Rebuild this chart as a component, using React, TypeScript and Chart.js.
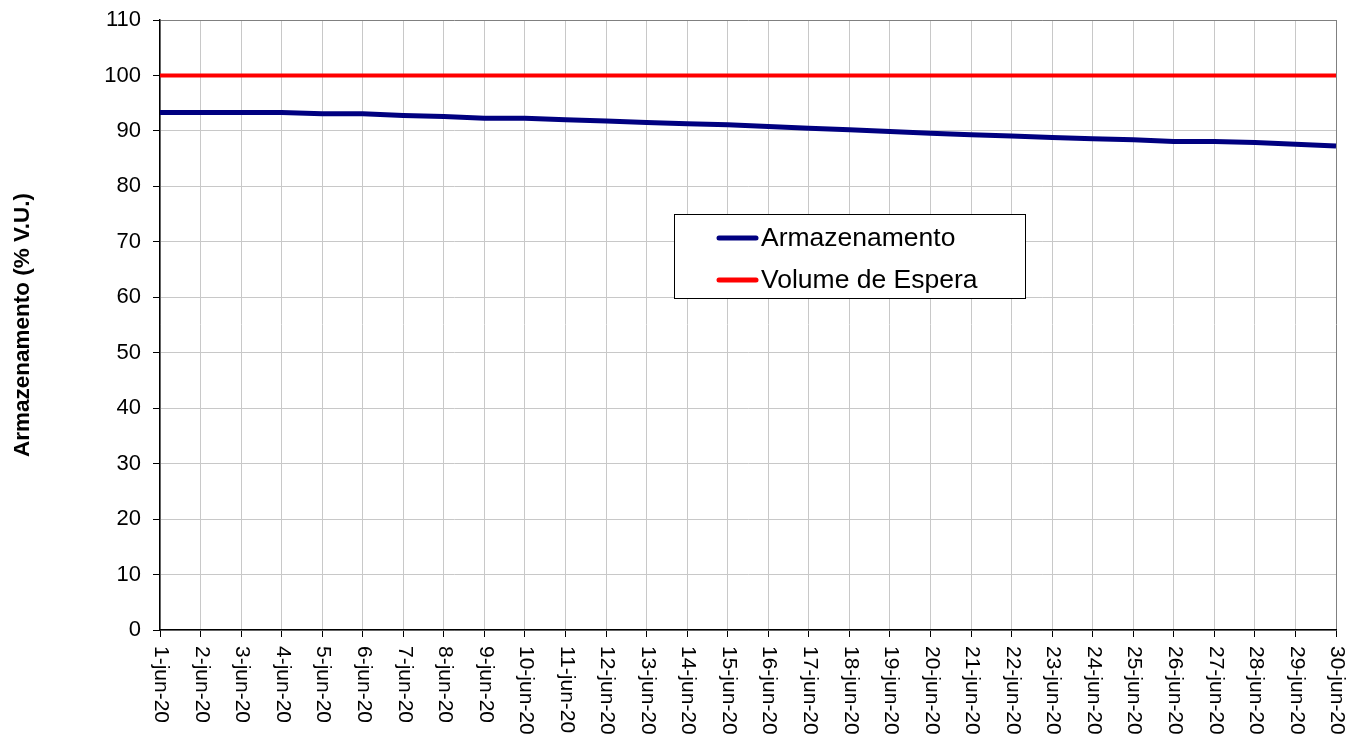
import React, { useEffect, useRef } from "react";
import { Chart, registerables } from "chart.js";

Chart.register(...registerables);

const categories: string[] = [
  "1-jun-20", "2-jun-20", "3-jun-20", "4-jun-20", "5-jun-20", "6-jun-20",
  "7-jun-20", "8-jun-20", "9-jun-20", "10-jun-20", "11-jun-20", "12-jun-20",
  "13-jun-20", "14-jun-20", "15-jun-20", "16-jun-20", "17-jun-20", "18-jun-20",
  "19-jun-20", "20-jun-20", "21-jun-20", "22-jun-20", "23-jun-20", "24-jun-20",
  "25-jun-20", "26-jun-20", "27-jun-20", "28-jun-20", "29-jun-20", "30-jun-20",
];

const armazenamento: number[] = [
  93.3, 93.3, 93.3, 93.3, 93.1, 93.1, 92.8, 92.6, 92.3, 92.3,
  92.0, 91.8, 91.5, 91.3, 91.1, 90.8, 90.5, 90.2, 89.9, 89.6,
  89.3, 89.1, 88.8, 88.6, 88.4, 88.1, 88.1, 87.9, 87.6, 87.3,
];

const volumeEspera: number[] = [
  100, 100, 100, 100, 100, 100, 100, 100, 100, 100,
  100, 100, 100, 100, 100, 100, 100, 100, 100, 100,
  100, 100, 100, 100, 100, 100, 100, 100, 100, 100,
];

const seriesNames: string[] = ["Armazenamento", "Volume de Espera"];
const yTitle = "Armazenamento (% V.U.)";
const yMin = 0;
const yMax = 110;
const yStep = 10;

const FONT = "Arial, 'Liberation Sans', sans-serif";

const xLabelPlugin = {
  id: "xLabelsCW",
  afterDraw(chart: any) {
    const ctx = chart.ctx;
    const xs = chart.scales.x;
    const labels = chart.data.labels as string[];
    ctx.save();
    ctx.fillStyle = "#000";
    ctx.font = `21px ${FONT}`;
    ctx.textAlign = "left";
    ctx.textBaseline = "middle";
    labels.forEach((lab, i) => {
      const x = xs.getPixelForTick(i);
      ctx.save();
      ctx.translate(x + 1, chart.chartArea.bottom + 16);
      ctx.rotate(Math.PI / 2);
      ctx.fillText(lab, 0, 0);
      ctx.restore();
    });
    ctx.restore();
  },
};

const legendPlugin = {
  id: "boxLegend",
  afterDraw(chart: any) {
    const ctx = chart.ctx;
    const bx = 674.5, by = 214.5, bw = 351, bh = 84;
    ctx.save();
    ctx.fillStyle = "#fff";
    ctx.fillRect(bx, by, bw, bh);
    ctx.strokeStyle = "#000";
    ctx.lineWidth = 1;
    ctx.strokeRect(bx, by, bw, bh);
    const rows = [238, 280];
    chart.data.datasets.forEach((ds: any, i: number) => {
      const y = rows[i];
      ctx.strokeStyle = ds.borderColor;
      ctx.lineWidth = 5;
      ctx.lineCap = "round";
      ctx.beginPath();
      ctx.moveTo(719, y);
      ctx.lineTo(756, y);
      ctx.stroke();
      ctx.fillStyle = "#000";
      ctx.font = `26.5px ${FONT}`;
      ctx.textAlign = "left";
      ctx.textBaseline = "middle";
      ctx.fillText(ds.label, 761, y + 1);
    });
    ctx.restore();
  },
};

export default function App() {
  const ref = useRef<HTMLCanvasElement | null>(null);
  useEffect(() => {
    if (!ref.current) return;
    const chart = new Chart(ref.current, {
      type: "line",
      data: {
        labels: categories,
        datasets: [
          {
            label: seriesNames[0],
            data: armazenamento,
            borderColor: "#000080",
            backgroundColor: "#000080",
            borderWidth: 5,
            pointRadius: 0,
            tension: 0,
          },
          {
            label: seriesNames[1],
            data: volumeEspera,
            borderColor: "#FF0000",
            backgroundColor: "#FF0000",
            borderWidth: 4,
            pointRadius: 0,
            tension: 0,
          },
        ],
      },
      options: {
        animation: false,
        responsive: false,
        devicePixelRatio: 1,
        layout: { padding: { top: 20, right: 29, left: 0, bottom: 0 } },
        plugins: {
          legend: { display: false },
          tooltip: { enabled: false },
        },
        scales: {
          x: {
            offset: false,
            border: { color: "#000", width: 1.5 },
            grid: {
              color: (c: any) =>
                c.index === categories.length - 1 ? "#808080" : "#c8c8c8",
              lineWidth: 1,
              tickColor: "#000",
              tickLength: 7,
            },
            ticks: {
              autoSkip: false,
              minRotation: 90,
              maxRotation: 90,
              color: "rgba(0,0,0,0)",
              font: { size: 21, family: FONT },
            },
            afterFit: (s: any) => {
              s.height = 115;
              s.paddingLeft = 0;
              s.paddingRight = 0;
            },
          },
          y: {
            min: yMin,
            max: yMax,
            border: { color: "#000", width: 1.5 },
            grid: {
              color: (c: any) => (c.tick && c.tick.value === yMax ? "#808080" : "#c8c8c8"),
              lineWidth: 1,
              tickColor: "#000",
              tickLength: 7,
            },
            ticks: {
              stepSize: yStep,
              color: "#000",
              padding: 12,
              font: { size: 22, family: FONT },
            },
            title: {
              display: true,
              text: yTitle,
              color: "#000",
              font: { size: 22.5, weight: "bold", family: FONT },
              padding: { top: 9, bottom: 0 },
            },
            afterFit: (s: any) => {
              s.width = 160;
              s.paddingTop = 0;
              s.paddingBottom = 0;
            },
          },
        },
      },
      plugins: [xLabelPlugin, legendPlugin],
    });
    return () => chart.destroy();
  }, []);
  return (
    <div style={{ position: "absolute", left: 0, top: 0, width: 1365, height: 745, background: "#fff" }}>
      <canvas ref={ref} width={1365} height={745} />
    </div>
  );
}
